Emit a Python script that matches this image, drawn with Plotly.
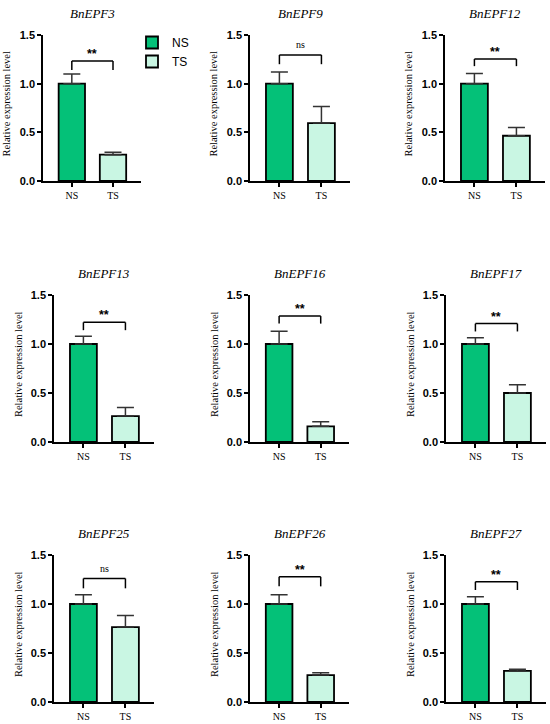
import plotly.graph_objects as go

W, H = 550, 724

genes = ["BnEPF3", "BnEPF9", "BnEPF12", "BnEPF13", "BnEPF16", "BnEPF17", "BnEPF25", "BnEPF26", "BnEPF27"]
groups = ["NS", "TS"]
ns_mean = [1.0, 1.0, 1.0, 1.0, 1.0, 1.0, 1.0, 1.0, 1.0]
ns_err = [0.10, 0.12, 0.105, 0.08, 0.13, 0.065, 0.095, 0.095, 0.075]
ts_mean = [0.27, 0.595, 0.465, 0.265, 0.16, 0.50, 0.765, 0.275, 0.317]
ts_err = [0.025, 0.17, 0.085, 0.087, 0.047, 0.083, 0.118, 0.024, 0.017]
sig = ["**", "ns", "**", "**", "**", "**", "ns", "**", "**"]
bracket_top = [1.233, 1.295, 1.253, 1.221, 1.285, 1.208, 1.26, 1.277, 1.227]
bracket_end = [1.14, 1.20, 1.18, 1.141, 1.208, 1.128, 1.16, 1.18, 1.143]
y_ticks = [0.0, 0.5, 1.0, 1.5]

NS_COLOR = "#04C178"
TS_COLOR = "#C9F6E3"

x_px = [[(43, 141), (250, 350), (445, 545)],
        [(54, 154), (250, 349), (446, 546)],
        [(54, 154), (250, 349), (446, 546)]]
y_px = [(35, 181), (295, 442), (555, 702)]

fig = go.Figure()
layout = {}
annotations = []
shapes = []
serif = "Liberation Serif, Times New Roman, DejaVu Serif, serif"
sans = "Liberation Sans, Arial, DejaVu Sans, sans-serif"

for i, gene in enumerate(genes):
    r, c = divmod(i, 3)
    k = "" if i == 0 else str(i + 1)
    xa, ya = "x" + k, "y" + k
    x0, x1 = x_px[r][c]
    y0, y1 = y_px[r]
    layout["xaxis" + k] = dict(
        domain=[x0 / W, x1 / W], anchor=ya, type="category",
        categoryorder="array", categoryarray=groups, range=[-0.7, 1.68],
        showline=True, linecolor="black", linewidth=1.5, ticks="outside",
        ticklen=4, tickwidth=1.5, tickcolor="black", showgrid=False, zeroline=False,
        tickfont=dict(family=serif, size=10, color="black"), automargin=False,
    )
    layout["yaxis" + k] = dict(
        domain=[1 - y1 / H, 1 - y0 / H], anchor=xa, range=[0, 1.5],
        tickvals=y_ticks, ticktext=["<b>%.1f</b>" % v for v in y_ticks],
        showline=True, linecolor="black", linewidth=1.5, ticks="outside",
        ticklen=4, tickwidth=1.5, tickcolor="black", showgrid=False, zeroline=False,
        tickfont=dict(family=sans, size=11, color="black"), automargin=False,
    )
    for g, mean, err, col in (("NS", ns_mean[i], ns_err[i], NS_COLOR),
                              ("TS", ts_mean[i], ts_err[i], TS_COLOR)):
        fig.add_trace(go.Bar(
            x=[g], y=[mean], xaxis=xa, yaxis=ya, name=g, legendgroup=g,
            showlegend=(i == 0), width=0.64,
            marker=dict(color=col, line=dict(color="black", width=1.8)),
            error_y=dict(type="data", symmetric=False, array=[err], arrayminus=[0],
                         color="#333333", thickness=1.5, width=8.5),
        ))
    for (bx0, by0, bx1, by1) in ((0, bracket_end[i], 0, bracket_top[i]),
                                 (0, bracket_top[i], 1, bracket_top[i]),
                                 (1, bracket_top[i], 1, bracket_end[i])):
        shapes.append(dict(type="line", xref=xa, yref=ya, x0=bx0, y0=by0, x1=bx1, y1=by1,
                           line=dict(color="black", width=1.5)))
    if sig[i] == "**":
        txt = "<b>**</b>"
        sfont = dict(family=sans, size=12.5, color="black")
        ys = -2
    else:
        txt = "ns"
        sfont = dict(family=serif, size=10, color="black")
        ys = 3
    annotations.append(dict(text=txt, x=0.5, y=bracket_top[i], xref=xa, yref=ya,
                            xanchor="center", yanchor="bottom", yshift=ys,
                            showarrow=False, font=sfont))
    annotations.append(dict(text="<i>%s</i>" % gene, x=0.5, y=1, xref=xa + " domain",
                            yref=ya + " domain", xanchor="center", yanchor="middle",
                            yshift=22, showarrow=False,
                            font=dict(family=serif, size=13, color="black")))
    annotations.append(dict(text="Relative expression level", x=0, y=0.53,
                            xref=xa + " domain", yref=ya + " domain", xanchor="center",
                            yanchor="middle", xshift=-36, textangle=-90, showarrow=False,
                            font=dict(family=serif, size=10.5, color="black")))

fig.update_layout(
    width=W, height=H, margin=dict(l=0, r=0, t=0, b=0, autoexpand=False),
    paper_bgcolor="white", plot_bgcolor="white", barmode="overlay",
    showlegend=True,
    legend=dict(x=132 / W, y=1 - 28 / H, xanchor="left", yanchor="top",
                font=dict(family=sans, size=12, color="black"),
                bgcolor="rgba(0,0,0,0)", tracegroupgap=0, itemwidth=30),
    annotations=annotations, shapes=shapes,
    **layout,
)

fig.write_html(
    "out.html",
    config={"displayModeBar": False},
    post_script="document.body.style.margin='0';document.body.style.overflow='hidden';",
)
